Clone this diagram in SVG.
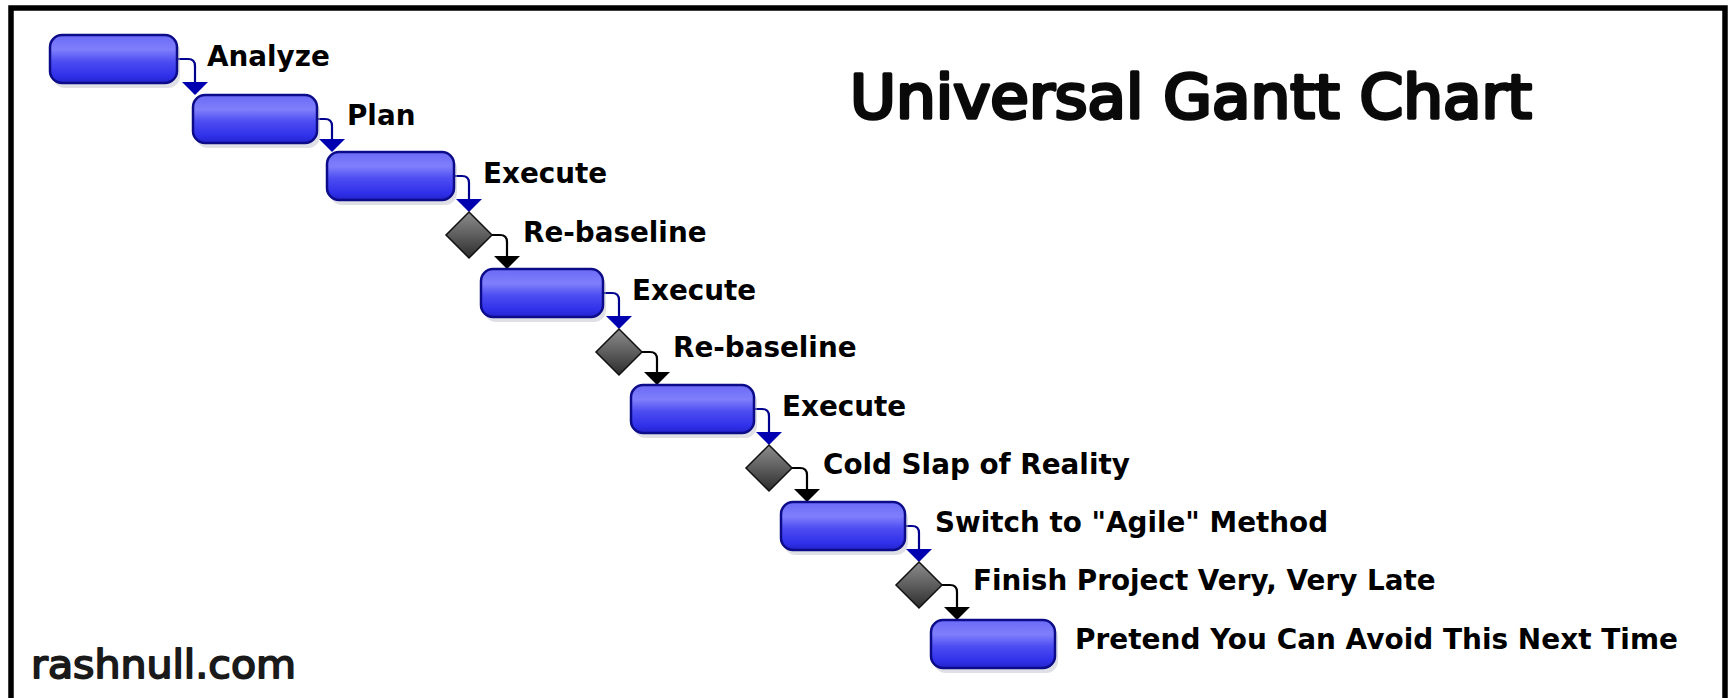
<svg xmlns="http://www.w3.org/2000/svg" width="1729" height="698" viewBox="0 0 1729 698">
<style>
.bar{fill:url(#barGrad);stroke:#0c0c8a;stroke-width:2.5}
.shadow{fill:#b8b8c8;opacity:0.45}
.dia{fill:url(#diaGrad);stroke:#111;stroke-width:1.5}
.lbl{font-family:"DejaVu Sans","Liberation Sans",sans-serif;font-weight:bold;font-size:27.8px;fill:#000}
.cb{fill:none;stroke:#00008e;stroke-width:2.2}
.ck{fill:none;stroke:#000;stroke-width:2.2}
</style>
<defs>
<linearGradient id="barGrad" x1="0" y1="0" x2="0" y2="1">
<stop offset="0" stop-color="#6a6af6"/>
<stop offset="0.3" stop-color="#7f7ffc"/>
<stop offset="0.55" stop-color="#4d4df2"/>
<stop offset="0.85" stop-color="#3030ea"/>
<stop offset="1" stop-color="#2424cc"/>
</linearGradient>
<linearGradient id="diaGrad" x1="0" y1="0" x2="0" y2="1">
<stop offset="0" stop-color="#8c8c8c"/>
<stop offset="0.5" stop-color="#5e5e5e"/>
<stop offset="1" stop-color="#2c2c2c"/>
</linearGradient>
<marker id="ab" markerUnits="userSpaceOnUse" viewBox="0 0 13 26" refX="12" refY="13" markerWidth="13" markerHeight="26" orient="auto">
<path d="M0,0 L13,13 L0,26 Z" fill="#0000b0"/>
</marker>
<marker id="ak" markerUnits="userSpaceOnUse" viewBox="0 0 13 26" refX="12" refY="13" markerWidth="13" markerHeight="26" orient="auto">
<path d="M0,0 L13,13 L0,26 Z" fill="#000"/>
</marker>
</defs>
<rect x="0" y="0" width="1729" height="698" fill="#fff"/>
<path d="M11,705 V8 H1725 V705" fill="none" stroke="#000" stroke-width="5.5"/>
<g id="title"><text x="850" y="118" font-family="'DejaVu Sans','Liberation Sans',sans-serif" font-size="60" textLength="682" lengthAdjust="spacingAndGlyphs" fill="#0a0a0a" stroke="#0a0a0a" stroke-width="3.5" stroke-linejoin="round">Universal Gantt Chart</text></g>
<g id="credit"><text x="31" y="678" font-family="'DejaVu Sans','Liberation Sans',sans-serif" font-size="39" textLength="265" lengthAdjust="spacingAndGlyphs" fill="#1a1a1a" stroke="#1a1a1a" stroke-width="1.8" stroke-linejoin="round">rashnull.com</text></g>
<g id="connectors">
<path class="cb" d="M177,59 H188 Q195,59 195,66 V94" marker-end="url(#ab)"/>
<path class="cb" d="M317,119 H325 Q332,119 332,126 V151" marker-end="url(#ab)"/>
<path class="cb" d="M454,176 H462 Q469,176 469,183 V211" marker-end="url(#ab)"/>
<path class="ck" d="M492,235 H500 Q507,235 507,242 V268" marker-end="url(#ak)"/>
<path class="cb" d="M603,293 H612 Q619,293 619,300 V328" marker-end="url(#ab)"/>
<path class="ck" d="M642,352 H650 Q657,352 657,359 V384" marker-end="url(#ak)"/>
<path class="cb" d="M754,409 H762 Q769,409 769,416 V444" marker-end="url(#ab)"/>
<path class="ck" d="M792,468 H800 Q807,468 807,475 V501" marker-end="url(#ak)"/>
<path class="cb" d="M905,526 H912 Q919,526 919,533 V561" marker-end="url(#ab)"/>
<path class="ck" d="M942,585 H950 Q957,585 957,592 V619" marker-end="url(#ak)"/>
</g>
<g id="n1"><rect class="shadow" x="53" y="40" width="127" height="48" rx="12"/><rect class="bar" x="50" y="35" width="127" height="48" rx="12"/><text class="lbl" x="207" y="66">Analyze</text></g>
<g id="n2"><rect class="shadow" x="196" y="100" width="124" height="48" rx="12"/><rect class="bar" x="193" y="95" width="124" height="48" rx="12"/><text class="lbl" x="347" y="125">Plan</text></g>
<g id="n3"><rect class="shadow" x="330" y="157" width="127" height="48" rx="12"/><rect class="bar" x="327" y="152" width="127" height="48" rx="12"/><text class="lbl" x="483" y="183">Execute</text></g>
<g id="m1"><path class="dia" d="M469,212 L492,235 L469,258 L446,235 Z"/><text class="lbl" x="523" y="242">Re-baseline</text></g>
<g id="n4"><rect class="shadow" x="484" y="274" width="122" height="48" rx="12"/><rect class="bar" x="481" y="269" width="122" height="48" rx="12"/><text class="lbl" x="632" y="300">Execute</text></g>
<g id="m2"><path class="dia" d="M619,329 L642,352 L619,375 L596,352 Z"/><text class="lbl" x="673" y="357">Re-baseline</text></g>
<g id="n5"><rect class="shadow" x="634" y="390" width="123" height="48" rx="12"/><rect class="bar" x="631" y="385" width="123" height="48" rx="12"/><text class="lbl" x="782" y="416">Execute</text></g>
<g id="m3"><path class="dia" d="M769,445 L792,468 L769,491 L746,468 Z"/><text class="lbl" x="823" y="474">Cold Slap of Reality</text></g>
<g id="n6"><rect class="shadow" x="784" y="507" width="124" height="48" rx="12"/><rect class="bar" x="781" y="502" width="124" height="48" rx="12"/><text class="lbl" x="935" y="532">Switch to "Agile" Method</text></g>
<g id="m4"><path class="dia" d="M919,562 L942,585 L919,608 L896,585 Z"/><text class="lbl" x="973" y="590">Finish Project Very, Very Late</text></g>
<g id="n7"><rect class="shadow" x="934" y="625" width="124" height="48" rx="12"/><rect class="bar" x="931" y="620" width="124" height="48" rx="12"/><text class="lbl" x="1075" y="649" textLength="603" lengthAdjust="spacingAndGlyphs">Pretend You Can Avoid This Next Time</text></g>
</svg>
